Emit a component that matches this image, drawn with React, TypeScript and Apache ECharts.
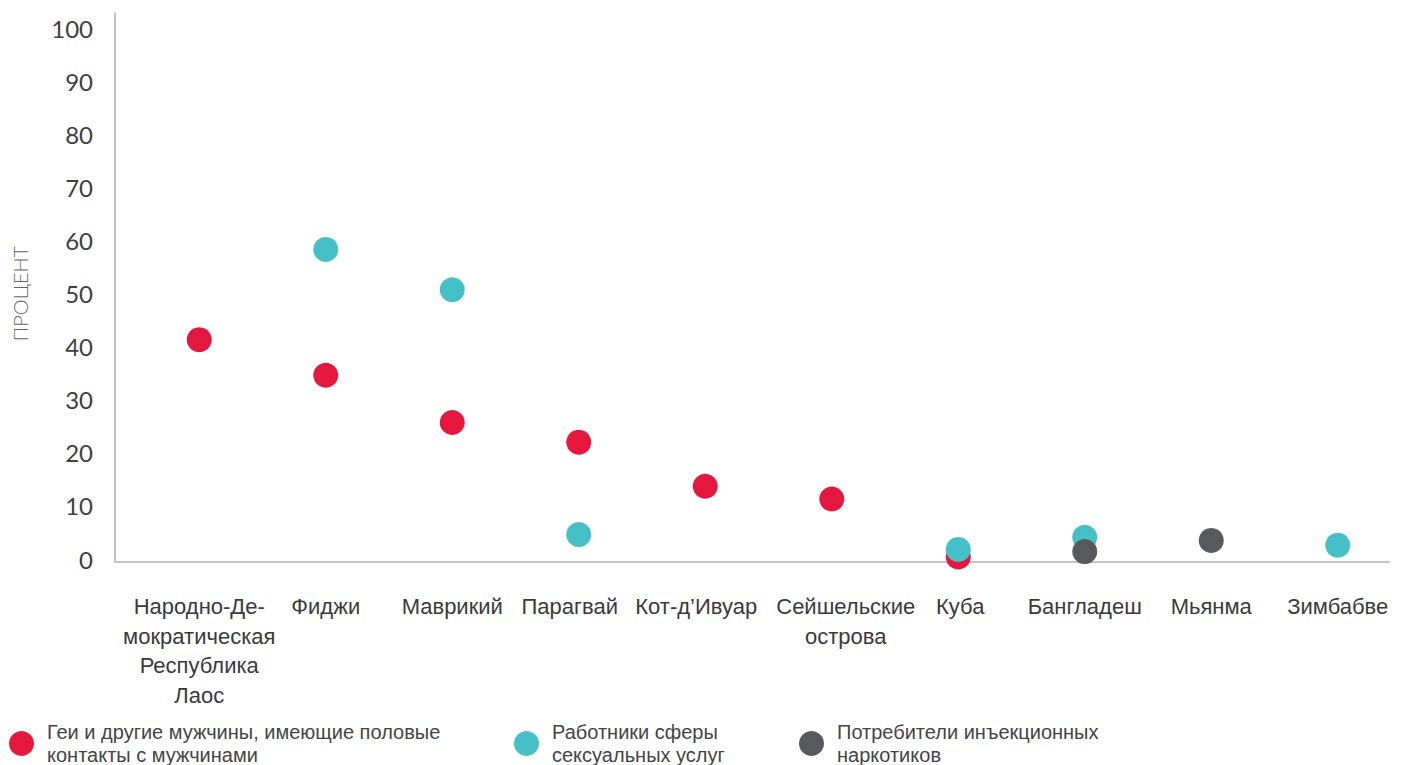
import React, { useEffect, useRef } from "react";
import * as echarts from "echarts";

const categories = [
  "Народно-Де-\nмократическая\nРеспублика\nЛаос",
  "Фиджи",
  "Маврикий",
  "Парагвай",
  "Кот-д’Ивуар",
  "Сейшельские\nострова",
  "Куба",
  "Бангладеш",
  "Мьянма",
  "Зимбабве",
];

const seriesNames = [
  "Геи и другие мужчины, имеющие половые\nконтакты с мужчинами",
  "Работники сферы\nсексуальных услуг",
  "Потребители инъекционных\nнаркотиков",
];

const msmValues = [41.3, 34.6, 25.7, 22.0, 13.7, 11.3, 0.4, null, null, null];
const sexWorkerValues = [null, 58.3, 50.7, 4.6, null, null, 1.8, 4.1, null, 2.6];
const pwidValues = [null, null, null, null, null, null, null, 1.4, 3.5, null];

const yTicks = [0, 10, 20, 30, 40, 50, 60, 70, 80, 90, 100];

const colors = ["#e5173f", "#45c0c6", "#58595b"];

// horizontal nudges of individual category labels (layout only)
const labelShift = [0, 0, 0, -9, -9, 14, 2, 0, 0, 0];

export default function App() {
  const ref = useRef<HTMLDivElement>(null);
  useEffect(() => {
    if (!ref.current) return;
    const chart = echarts.init(ref.current, null, { renderer: "svg" });
    const labelFont = {
      fontFamily: "'Liberation Sans', Arial, sans-serif",
      fontSize: 22,
      lineHeight: 29.5,
      color: "#3a3a3a",
    };
    const rich: Record<string, any> = {};
    labelShift.forEach((s, i) => {
      rich["c" + i] = {
        ...labelFont,
        padding: [0, s < 0 ? -2 * s : 0, 0, s > 0 ? 2 * s : 0],
      };
    });
    const legendText = {
      fontFamily: "'Liberation Sans', Arial, sans-serif",
      fontSize: 20,
      color: "#454545",
      lineHeight: 23,
      padding: [23, 0, 0, 8],
    };
    const legendLefts = [9, 514, 799];
    chart.setOption({
      animation: false,
      backgroundColor: "#ffffff",
      grid: [
        { left: 136, right: 5, top: 28, bottom: 206, outerBoundsMode: "none" },
        { left: 115, right: 17, top: 13, bottom: 203, outerBoundsMode: "none" },
      ],
      legend: seriesNames.map((name, i) => ({
        data: [name],
        left: legendLefts[i],
        top: 709,
        padding: 0,
        icon: "circle",
        itemWidth: 25,
        itemHeight: 25,
        itemGap: 12,
        textStyle: legendText,
        selectedMode: false,
      })),
      xAxis: [
        {
          type: "category",
          gridIndex: 0,
          data: categories,
          boundaryGap: true,
          axisLine: { show: false },
          axisTick: { show: false },
          axisLabel: {
            interval: 0,
            margin: 33,
            ...labelFont,
            align: "center",
            formatter: (value: string, index: number) =>
              value
                .split("\n")
                .map((line) => `{c${index}|${line}}`)
                .join("\n"),
            rich,
          },
        },
        {
          type: "value",
          gridIndex: 1,
          min: 0,
          max: 1,
          axisLine: { show: true, onZero: false, lineStyle: { color: "#c3c3c7", width: 2 } },
          axisTick: { show: false },
          axisLabel: { show: false },
          splitLine: { show: false },
        },
      ],
      yAxis: [
        {
          type: "value",
          gridIndex: 0,
          min: yTicks[0],
          max: yTicks[yTicks.length - 1],
          interval: 10,
          axisLine: { show: false },
          axisTick: { show: false },
          splitLine: { show: false },
          axisLabel: {
            margin: 43,
            fontFamily: "Lato, sans-serif",
            fontWeight: 400,
            fontSize: 24,
            color: "#404040",
          },
          name: "ПРОЦЕНТ",
          nameLocation: "middle",
          nameRotate: 90,
          nameGap: 106,
          nameTextStyle: {
            fontFamily: "Lato, sans-serif",
            fontWeight: 300,
            fontSize: 20,
            color: "#666666",
          },
        },
        {
          type: "value",
          gridIndex: 1,
          min: 0,
          max: 1,
          axisLine: { show: true, onZero: false, lineStyle: { color: "#c3c3c7", width: 2 } },
          axisTick: { show: false },
          axisLabel: { show: false },
          splitLine: { show: false },
        },
      ],
      series: [
        { name: seriesNames[0], type: "scatter", data: msmValues, symbolSize: 25, itemStyle: { color: colors[0], opacity: 1 }, xAxisIndex: 0, yAxisIndex: 0 },
        { name: seriesNames[1], type: "scatter", data: sexWorkerValues, symbolSize: 25, itemStyle: { color: colors[1], opacity: 1 }, xAxisIndex: 0, yAxisIndex: 0 },
        { name: seriesNames[2], type: "scatter", data: pwidValues, symbolSize: 25, itemStyle: { color: colors[2], opacity: 1 }, xAxisIndex: 0, yAxisIndex: 0 },
      ],
    });
    return () => chart.dispose();
  }, []);
  return (
    <div
      ref={ref}
      style={{ position: "absolute", left: 0, top: 0, width: 1406, height: 765 }}
    />
  );
}
